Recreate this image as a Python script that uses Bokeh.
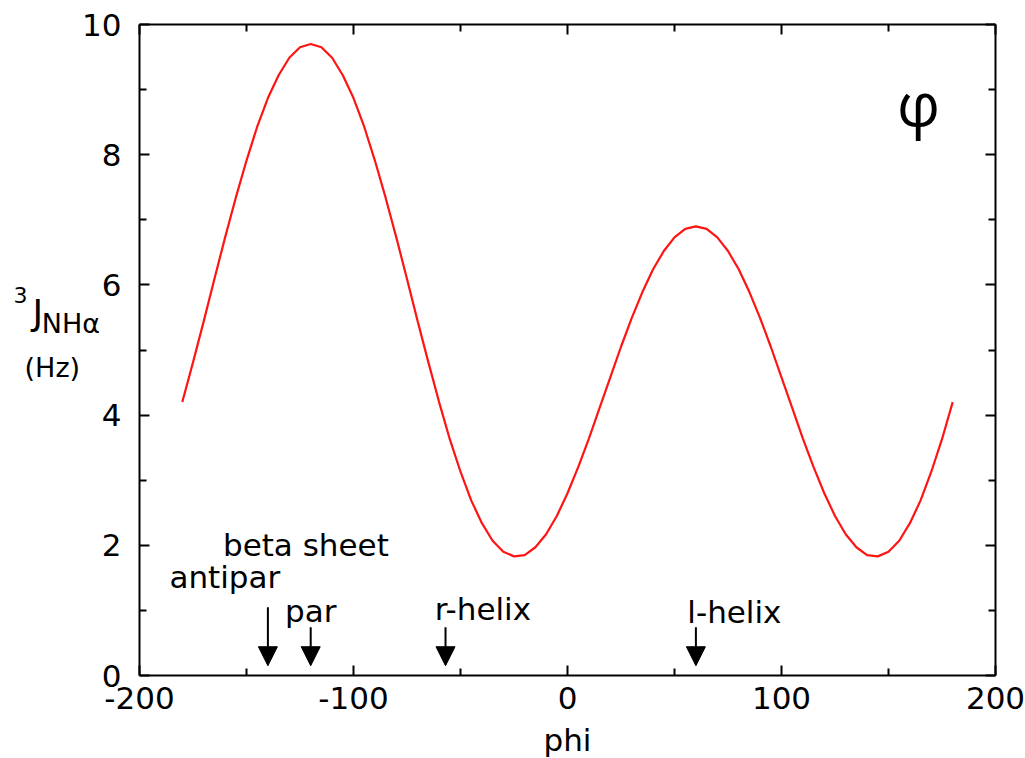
from bokeh.plotting import figure
from bokeh.models import Range1d, LinearAxis, FixedTicker, Arrow, NormalHead, Label, ColumnDataSource
from bokeh.core.properties import value
from bokeh.embed import file_html
from bokeh.resources import INLINE

# Curve values (phi in degrees, 3J in Hz)
phi = list(range(-180, 185, 5))
jval = [4.20, 4.81, 5.44, 6.09, 6.73, 7.34, 7.91, 8.43, 8.87, 9.22, 9.49, 9.65,
        9.70, 9.65, 9.49, 9.22, 8.87, 8.43, 7.91, 7.34, 6.73, 6.09, 5.44, 4.81,
        4.20, 3.63, 3.13, 2.69, 2.34, 2.07, 1.90, 1.83, 1.85, 1.97, 2.17, 2.45,
        2.80, 3.20, 3.64, 4.11, 4.58, 5.05, 5.49, 5.89, 6.24, 6.52, 6.73, 6.86,
        6.90, 6.86, 6.73, 6.52, 6.24, 5.89, 5.49, 5.05, 4.58, 4.11, 3.64, 3.20,
        2.80, 2.45, 2.17, 1.97, 1.85, 1.83, 1.90, 2.07, 2.34, 2.69, 3.13, 3.63,
        4.20]

x_ticks = [-200, -100, 0, 100, 200]
x_tick_labels = ["-200", "-100", "0", "100", "200"]
x_minor = [-150, -50, 50, 150]
y_ticks = [0, 2, 4, 6, 8, 10]
y_tick_labels = ["0", "2", "4", "6", "8", "10"]
y_minor = [1, 3, 5, 7, 9]

# Secondary-structure markers
arrow_phi = [-140, -120, -57, 60]
arrow_top = [1.05, 0.74, 0.74, 0.74]
arrow_tip = [0.15, 0.15, 0.15, 0.15]

ann_text = ["beta sheet", "antipar", "par", "r-helix", "l-helix"]
ann_x = [-161, -186, -132, -62, 56]
ann_y = [2.01, 1.52, 0.99, 1.02, 0.98]

FONT = "DejaVu Sans"
FS = "31px"

p = figure(width=1025, height=758, x_range=Range1d(-200, 200), y_range=Range1d(0, 10),
           output_backend="svg", toolbar_location=None,
           min_border_left=139, min_border_right=30, min_border_top=24, min_border_bottom=83)
p.grid.visible = False
p.outline_line_color = None
p.background_fill_color = "white"
p.border_fill_color = "white"

p.line(phi, jval, line_color="#ff1414", line_width=2.2)

def style_axis(ax, ticks, labels, minor, show_labels, standoff):
    ax.ticker = FixedTicker(ticks=ticks, minor_ticks=minor)
    ax.axis_line_color = "black"
    ax.axis_line_width = 2
    ax.major_tick_line_color = "black"
    ax.major_tick_line_width = 2
    ax.minor_tick_line_color = "black"
    ax.minor_tick_line_width = 2
    ax.major_tick_in = 10
    ax.major_tick_out = 0
    ax.minor_tick_in = 7
    ax.minor_tick_out = 0
    ax.major_label_text_font = FONT
    ax.major_label_overrides = {t: l for t, l in zip(ticks, labels)}
    if show_labels:
        ax.major_label_text_color = "black"
        ax.major_label_text_font_size = FS
        ax.major_label_standoff = standoff
    else:
        ax.major_label_text_color = None
        ax.major_label_text_font_size = "1px"
        ax.major_label_standoff = 0

style_axis(p.xaxis[0], x_ticks, x_tick_labels, x_minor, True, 11)
style_axis(p.yaxis[0], y_ticks, y_tick_labels, y_minor, True, 18)

top_ax = LinearAxis()
style_axis(top_ax, x_ticks, x_tick_labels, x_minor, False, 0)
p.add_layout(top_ax, "above")
right_ax = LinearAxis()
style_axis(right_ax, y_ticks, y_tick_labels, y_minor, False, 0)
p.add_layout(right_ax, "right")

arr_src = ColumnDataSource(dict(x=arrow_phi, y0=arrow_top, y1=arrow_tip))
p.add_layout(Arrow(x_start="x", y_start="y0", x_end="x", y_end="y1", source=arr_src,
                   line_color="black", line_width=2,
                   end=NormalHead(size=19, fill_color="black", line_color="black", line_width=1)))

ann_src = ColumnDataSource(dict(x=ann_x, y=ann_y, text=ann_text))
p.text(x="x", y="y", text="text", source=ann_src, text_font=value(FONT),
       text_font_size=value(FS), text_color="black",
       text_align="left", text_baseline="alphabetic")

# axis titles placed in side panels (so they are not clipped to the frame);
# their positions are in data units, the panel only reserves room
def side_label(place, x, y, txt, font, size, style="normal", align="left", lh=1.2):
    p.add_layout(Label(x=x, y=y, text=txt, text_font=font, text_font_size=size,
                       text_font_style=style, text_align=align, text_line_height=lh,
                       text_baseline="alphabetic", text_color="black"), place)

side_label("below", 0, -0.99, "phi", FONT, FS, align="center")
side_label("right", -258.9, 5.84, "3", FONT, "22px")
side_label("right", -250.0, 5.58, "J", FONT, "36px")
side_label("left", -253.7, 5.07, "\u00a0\u00a0NHα\n(Hz)", FONT, "27px", lh=1.43)

p.add_layout(Label(x=154, y=8.79, text="φ", text_font="Open Sans", text_font_size="60px",
                   text_baseline="alphabetic", text_color="black"))

open("out.html", "w").write(file_html(p, INLINE))
